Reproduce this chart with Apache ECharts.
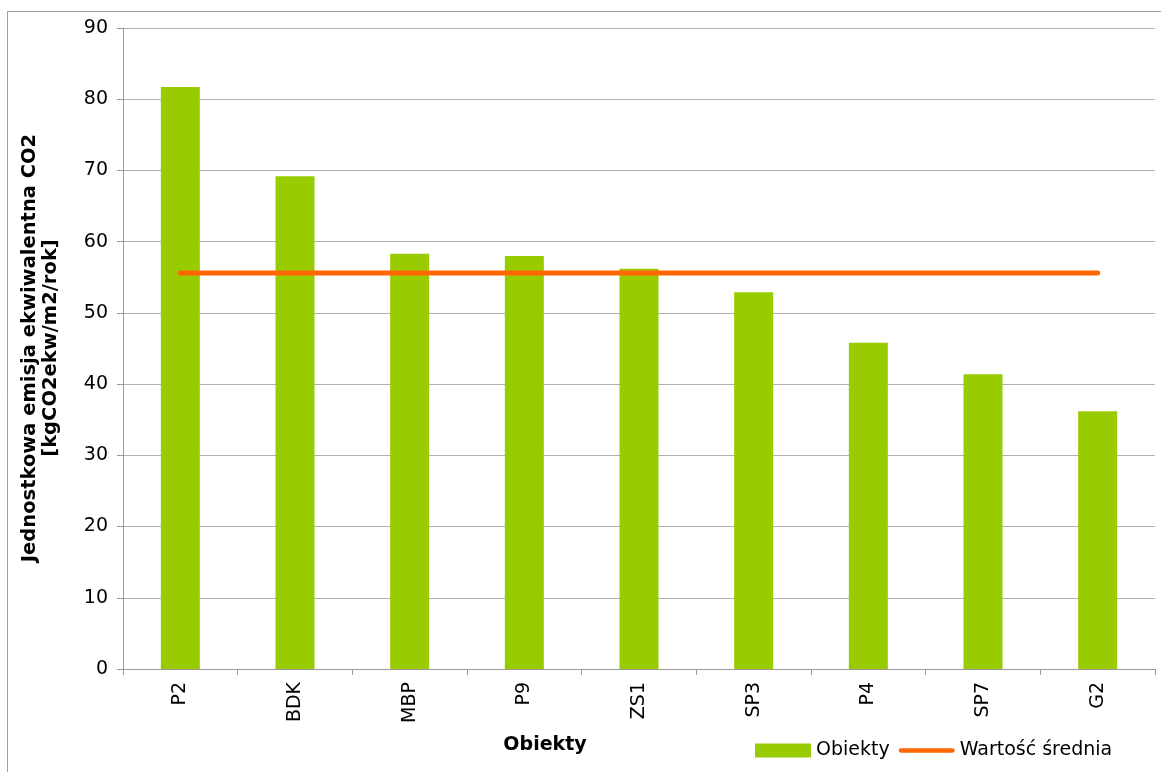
<!DOCTYPE html>
<html>
<head>
<meta charset="utf-8">
<script src="https://cdn.jsdelivr.net/npm/echarts@6/dist/echarts.min.js"></script>
<style>
html,body{margin:0;padding:0;background:#fff;}
#chart{width:1161px;height:772px;}
</style>
</head>
<body>
<div id="chart"></div>
<script>
const categories = ['P2', 'BDK', 'MBP', 'P9', 'ZS1', 'SP3', 'P4', 'SP7', 'G2'];
const objectValues = [81.7, 69.2, 58.3, 58.0, 56.2, 52.9, 45.8, 41.4, 36.2];
const meanValues = [55.6, 55.6, 55.6, 55.6, 55.6, 55.6, 55.6, 55.6, 55.6];
const yTicks = { min: 0, max: 90, interval: 10 };
const seriesNames = ['Obiekty', 'Wartość średnia'];
const yTitle = 'Jednostkowa emisja ekwiwalentna CO2\n[kgCO2ekw/m2/rok]';
const xTitle = 'Obiekty';

const FONT = 'DejaVu Sans';
const chart = echarts.init(document.getElementById('chart'), null, { renderer: 'canvas' });
chart.setOption({
  animation: false,
  backgroundColor: '#ffffff',
  textStyle: { fontFamily: FONT, color: '#000' },
  grid: { left: 123, right: 6, top: 28, bottom: 103, containLabel: false },
  xAxis: {
    type: 'category',
    data: categories,
    boundaryGap: true,
    axisLine: { lineStyle: { color: '#9a9a9a', width: 1 } },
    axisTick: { show: true, length: 6, lineStyle: { color: '#9a9a9a' } },
    axisLabel: { rotate: 90, margin: 13, fontSize: 19, color: '#000', fontFamily: FONT },
    splitLine: { show: false }
  },
  yAxis: {
    type: 'value',
    min: yTicks.min, max: yTicks.max, interval: yTicks.interval,
    axisLine: { show: true, lineStyle: { color: '#9a9a9a', width: 1 } },
    axisTick: { show: true, length: 6, lineStyle: { color: '#9a9a9a' } },
    axisLabel: { margin: 15, fontSize: 19, color: '#000', fontFamily: FONT },
    splitLine: { show: true, lineStyle: { color: '#b0b0b0', width: 1 } }
  },
  legend: {
    left: 755, top: 741, padding: 0,
    itemWidth: 56, itemHeight: 14, itemGap: 9,
    textStyle: { fontSize: 19, color: '#000', fontFamily: FONT },
    data: [
      { name: seriesNames[0], icon: 'rect' },
      { name: seriesNames[1], icon: 'path://M0,0 M0,14 M1,4.5 L55,4.5 A2.5,2.5 0 0 1 55,9.5 L1,9.5 A2.5,2.5 0 0 1 1,4.5 Z',
        itemStyle: { color: '#ff6600' } }
    ]
  },
  series: [
    {
      name: seriesNames[0],
      type: 'bar',
      data: objectValues,
      barWidth: 39,
      itemStyle: { color: '#99cc00' }
    },
    {
      name: seriesNames[1],
      type: 'line',
      data: meanValues,
      symbol: 'none',
      lineStyle: { color: '#ff6600', width: 5, cap: 'round' },
      itemStyle: { color: '#ff6600' },
      z: 5
    }
  ],
  graphic: [
    {
      type: 'rect', silent: true,
      shape: { x: 7.5, y: 11.5, width: 1200, height: 800 },
      style: { fill: 'none', stroke: '#a0a0a0', lineWidth: 1 }
    },
    {
      type: 'text', x: 40, y: 348, rotation: Math.PI / 2,
      style: {
        text: yTitle, fontFamily: FONT, fontSize: 19.5, fontWeight: 'bold',
        fill: '#000', align: 'center', verticalAlign: 'middle', lineHeight: 21
      }
    },
    {
      type: 'text', x: 545, y: 745,
      style: {
        text: xTitle, fontFamily: FONT, fontSize: 19, fontWeight: 'bold',
        fill: '#000', align: 'center', verticalAlign: 'middle'
      }
    }
  ]
});
</script>
</body>
</html>
